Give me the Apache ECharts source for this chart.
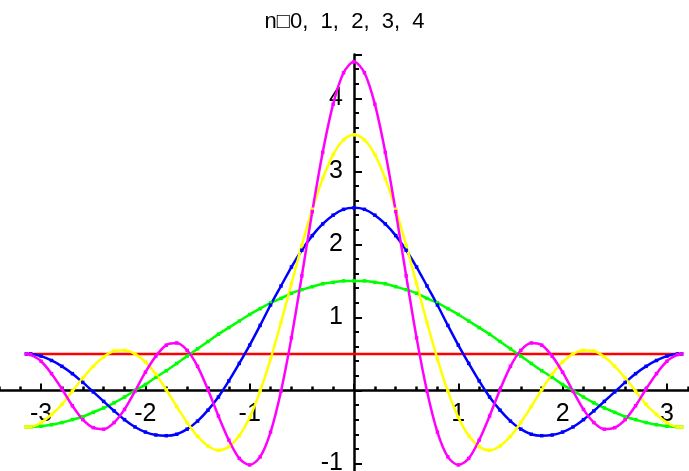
<!DOCTYPE html>
<html>
<head>
<meta charset="utf-8">
<script src="https://cdn.jsdelivr.net/npm/echarts@6/dist/echarts.min.js"></script>
<style>
  html, body { margin: 0; padding: 0; background: #ffffff; }
  #chart { width: 689px; height: 471px; }
</style>
</head>
<body>
<div id="chart"></div>
<script>
// Sample positions along x (from -pi to pi)
const xs = [-3.1416, -3.1, -3.0, -2.9, -2.8, -2.7, -2.6, -2.5, -2.4, -2.3, -2.2, -2.1, -2.0,
  -1.9, -1.8, -1.7, -1.6, -1.5, -1.4, -1.3, -1.2, -1.1, -1.0, -0.9, -0.8, -0.7, -0.6, -0.5,
  -0.4, -0.3, -0.2, -0.1, 0, 0.1, 0.2, 0.3, 0.4, 0.5, 0.6, 0.7, 0.8, 0.9, 1.0, 1.1, 1.2, 1.3,
  1.4, 1.5, 1.6, 1.7, 1.8, 1.9, 2.0, 2.1, 2.2, 2.3, 2.4, 2.5, 2.6, 2.7, 2.8, 2.9, 3.0, 3.1, 3.1416];

// n = 0 : flat line
const redX = [-3.1416, 3.1416];
const redY = [0.5, 0.5];

// n = 1
const greenY = [-0.50, -0.50, -0.49, -0.47, -0.44, -0.40, -0.36, -0.30, -0.24, -0.17, -0.09, 0.00,
  0.08, 0.18, 0.27, 0.37, 0.47, 0.57, 0.67, 0.77, 0.86, 0.95, 1.04, 1.12, 1.20, 1.26, 1.33, 1.38,
  1.42, 1.46, 1.48, 1.50, 1.50, 1.50, 1.48, 1.46, 1.42, 1.38, 1.33, 1.26, 1.20, 1.12, 1.04, 0.95,
  0.86, 0.77, 0.67, 0.57, 0.47, 0.37, 0.27, 0.18, 0.08, 0.00, -0.09, -0.17, -0.24, -0.30, -0.36,
  -0.40, -0.44, -0.47, -0.49, -0.50, -0.50];

// n = 2
const blueY = [0.50, 0.50, 0.47, 0.41, 0.33, 0.23, 0.11, -0.02, -0.15, -0.28, -0.40, -0.50, -0.57,
  -0.61, -0.62, -0.60, -0.53, -0.42, -0.27, -0.09, 0.13, 0.37, 0.62, 0.89, 1.17, 1.43, 1.69, 1.92,
  2.12, 2.28, 2.40, 2.48, 2.50, 2.48, 2.40, 2.28, 2.12, 1.92, 1.69, 1.43, 1.17, 0.89, 0.62, 0.37,
  0.13, -0.09, -0.27, -0.42, -0.53, -0.60, -0.62, -0.61, -0.57, -0.50, -0.40, -0.28, -0.15, -0.02,
  0.11, 0.23, 0.33, 0.41, 0.47, 0.50, 0.50];

// n = 3
const yellowY = [-0.50, -0.50, -0.44, -0.33, -0.19, -0.01, 0.17, 0.33, 0.46, 0.54, 0.55, 0.50, 0.39,
  0.22, 0.01, -0.22, -0.44, -0.63, -0.76, -0.82, -0.77, -0.62, -0.37, -0.01, 0.43, 0.93, 1.46, 1.99,
  2.48, 2.90, 3.23, 3.43, 3.50, 3.43, 3.23, 2.90, 2.48, 1.99, 1.46, 0.93, 0.43, -0.01, -0.37, -0.62,
  -0.77, -0.82, -0.76, -0.63, -0.44, -0.22, 0.01, 0.22, 0.39, 0.50, 0.55, 0.54, 0.46, 0.33, 0.17,
  -0.01, -0.19, -0.33, -0.44, -0.50, -0.50];

// n = 4
const magentaY = [0.50, 0.49, 0.40, 0.23, 0.02, -0.21, -0.40, -0.51, -0.53, -0.44, -0.26, -0.01, 0.25,
  0.47, 0.62, 0.65, 0.55, 0.33, 0.01, -0.35, -0.68, -0.93, -1.02, -0.91, -0.57, -0.01, 0.72, 1.57,
  2.45, 3.26, 3.92, 4.35, 4.50, 4.35, 3.92, 3.26, 2.45, 1.57, 0.72, -0.01, -0.57, -0.91, -1.02,
  -0.93, -0.68, -0.35, 0.01, 0.33, 0.55, 0.65, 0.62, 0.47, 0.25, -0.01, -0.26, -0.44, -0.53, -0.51,
  -0.40, -0.21, 0.02, 0.23, 0.40, 0.49, 0.50];

const titleText = 'n\u25A10,  1,  2,  3,  4';

function pairs(x, y) {
  return x.map((v, i) => [v, y[i]]);
}

function curve(name, color, x, y, marks) {
  return {
    name: name,
    type: 'line',
    data: pairs(x, y),
    smooth: 0.3,
    symbol: 'rect',
    symbolSize: 3.5,
    showSymbol: marks,
    showAllSymbol: true,
    lineStyle: { color: color, width: 2.5 },
    itemStyle: { color: color },
    emphasis: { disabled: true }
  };
}

const fontFamily = '"Liberation Sans", Arial, sans-serif';

// Plot area (it runs past the canvas on the left, right and bottom)
const W = 689, H = 471;
const gridLeft = -63.2, gridRight = -82.2, gridTop = 54.5, gridBottom = -65.5;
const xMin = -4, xMax = 4, yMin = -2, yMax = 4.6;

// Shift both axes so that they cross at the origin
const plotW = W - gridLeft - gridRight;
const plotH = H - gridTop - gridBottom;
const yAxisOffset = -(0 - xMin) / (xMax - xMin) * plotW;
const xAxisOffset = -(0 - yMin) / (yMax - yMin) * plotH;

const chart = echarts.init(document.getElementById('chart'), null, { renderer: 'canvas' });
chart.setOption({
  animation: false,
  backgroundColor: '#ffffff',
  title: {
    text: titleText,
    left: 'center',
    top: 6,
    textStyle: { fontFamily: fontFamily, fontSize: 22, fontWeight: 'normal', color: '#000' }
  },
  grid: { left: gridLeft, right: gridRight, top: gridTop, bottom: gridBottom, outerBoundsMode: 'none', containLabel: false },
  xAxis: {
    type: 'value',
    min: xMin,
    max: xMax,
    interval: 1,
    position: 'bottom',
    offset: xAxisOffset,
    axisLine: { onZero: false, lineStyle: { color: '#000', width: 2.5 } },
    axisTick: { inside: true, length: 7, lineStyle: { color: '#000', width: 2 } },
    minorTick: { show: true, splitNumber: 5, length: 4, lineStyle: { color: '#000', width: 2.5 } },
    splitLine: { show: false },
    axisLabel: {
      margin: 11,
      fontFamily: fontFamily,
      fontSize: 25,
      color: '#000',
      formatter: v => (v === 0 ? '' : String(v))
    }
  },
  yAxis: {
    type: 'value',
    min: yMin,
    max: yMax,
    interval: 1,
    position: 'left',
    offset: yAxisOffset,
    axisLine: { onZero: false, lineStyle: { color: '#000', width: 2.5 } },
    axisTick: { inside: true, length: 8, lineStyle: { color: '#000', width: 2 } },
    minorTick: { show: true, splitNumber: 5, length: 5, lineStyle: { color: '#000', width: 2 } },
    splitLine: { show: false },
    axisLabel: {
      margin: 11,
      fontFamily: fontFamily,
      fontSize: 25,
      color: '#000',
      showMaxLabel: false,
      formatter: v => (v === 0 || Math.abs(v - Math.round(v)) > 1e-6 ? '' : String(v))
    }
  },
  series: [
    curve('n=0', '#ff0000', redX, redY, false),
    curve('n=1', '#00ff00', xs, greenY, true),
    curve('n=2', '#0000ff', xs, blueY, true),
    curve('n=3', '#ffff00', xs, yellowY, true),
    curve('n=4', '#ff00ff', xs, magentaY, true)
  ]
});
</script>
</body>
</html>
